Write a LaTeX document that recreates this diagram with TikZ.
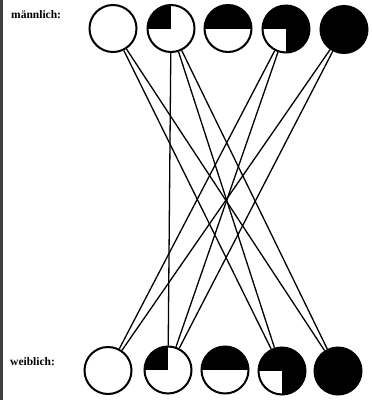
\documentclass[tikz,border=0pt]{standalone}
\usepackage{fontspec}
\setmainfont{Liberation Serif}
\begin{document}
\begin{tikzpicture}[x=1pt,y=-1pt,
  circ/.style={circle, draw, line width=2pt, minimum size=47pt, inner sep=0pt, fill=white},
  ww/.style={circ},
  qul/.style={circ, path picture={\fill[black] (path picture bounding box.center) rectangle (path picture bounding box.north west);}},
  half/.style={circ, path picture={\fill[black] (path picture bounding box.west) rectangle (path picture bounding box.north east);}},
  qlw/.style={circ, fill=black, path picture={\fill[white] (path picture bounding box.center) rectangle (path picture bounding box.south west);}},
  bb/.style={circ, fill=black},
  conn/.style={line width=1.3pt},
  lab/.style={anchor=west, inner sep=0pt, font=\bfseries\fontsize{11.5}{11.5}\selectfont}]
\useasboundingbox (0,0) rectangle (372,400);
% frame line
\coordinate (f1) at (1.5,0);
\coordinate (f2) at (1.5,400);
\draw[line width=2.2pt, black!75] (f1) -- (f2);
% labels
\node[lab] (lm) at (11,15) {männlich:};
\node[lab] (lw) at (10,362) {weiblich:};
% top row
\node[ww]   (t1) at (113,28.5) {};
\node[qul]  (t2) at (171,28.5) {};
\node[half] (t3) at (228,28.5) {};
\node[qlw]  (t4) at (286,29) {};
\node[bb]   (t5) at (344,29.5) {};
% bottom row
\node[ww]   (b1) at (108,370.5) {};
\node[qul]  (b2) at (168,370) {};
\node[half] (b3) at (225,370) {};
\node[qlw]  (b4) at (282,371) {};
\node[bb]   (b5) at (338,371) {};
% connectors
\draw[conn] (t1) -- (b4);
\draw[conn] (t1) -- (b5);
\draw[conn] (t2) -- (b2);
\draw[conn] (t2) -- (b4);
\draw[conn] (t2) -- (b5);
\draw[conn] (t4) -- (b1);
\draw[conn] (t4) -- (b2);
\draw[conn] (t5) -- (b1);
\draw[conn] (t5) -- (b2);
\end{tikzpicture}
\end{document}
